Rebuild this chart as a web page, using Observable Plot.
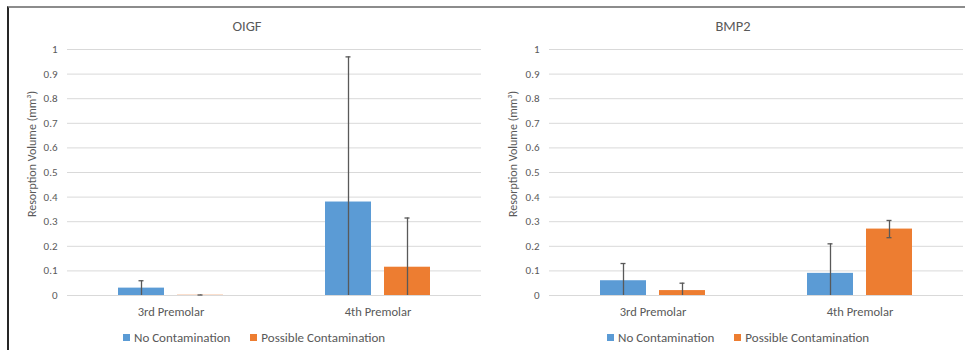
<!DOCTYPE html>
<html>
<head>
<meta charset="utf-8">
<script src="https://cdn.jsdelivr.net/npm/d3@7"></script>
<script src="https://cdn.jsdelivr.net/npm/@observablehq/plot@0.6"></script>
<style>
  html, body { margin: 0; padding: 0; background: #fff; }
  body { width: 965px; height: 350px; position: relative; overflow: hidden;
         font-family: Carlito, Calibri, Lato, sans-serif; color: #595959; }
  .frame { position: absolute; left: 7px; top: 6px; width: 958px; height: 344px;
           border-top: 2px solid #8c8c8c; border-left: 2px solid #262626; box-sizing: border-box; }
  .panel { position: absolute; top: 30px; }
  .title { position: absolute; top: 17px; font-size: 14.5px; transform: translateX(-50%); white-space: nowrap; }
  .ylabel { position: absolute; font-size: 12px; white-space: nowrap;
            transform: translate(-50%, -50%) rotate(-90deg); }
  .legend { position: absolute; top: 330px; display: flex; align-items: center; font-size: 13px; white-space: nowrap; }
  .legend .sw { width: 7px; height: 7px; margin-right: 4px; }
  .legend .item { display: flex; align-items: center; margin-right: 20px; }
  .panel svg g[aria-label^="y-axis"] text { font-size: 11px; }
  .panel svg g[aria-label^="fx-axis"] text { font-size: 12.5px; }
</style>
</head>
<body>
<div class="frame"></div>
<script>
// Resorption volume (mm³) by tooth and contamination status, mean ± error
const categories = ["3rd Premolar", "4th Premolar"];
const seriesNames = ["No Contamination", "Possible Contamination"];
const seriesColors = ["#5B9BD5", "#ED7D31"];
const yTicks = [0, 0.1, 0.2, 0.3, 0.4, 0.5, 0.6, 0.7, 0.8, 0.9, 1];

const oigfNone = [0.03, 0.38];
const oigfNoneErr = [0.03, 0.59];
const oigfPossible = [0.001, 0.115];
const oigfPossibleErr = [0.001, 0.2];

const bmp2None = [0.06, 0.09];
const bmp2NoneErr = [0.07, 0.12];
const bmp2Possible = [0.02, 0.27];
const bmp2PossibleErr = [0.03, 0.035];

function rows(none, noneErr, possible, possibleErr) {
  const out = [];
  categories.forEach((c, i) => {
    out.push({category: c, series: seriesNames[0], value: none[i], err: noneErr[i]});
    out.push({category: c, series: seriesNames[1], value: possible[i], err: possibleErr[i]});
  });
  return out;
}

function panel({title, data, left, width, marginLeft, marginRight, titleX, ylabelX, legendX}) {
  const chart = Plot.plot({
    width,
    height: 295,
    marginTop: 19,
    marginBottom: 30,
    marginLeft,
    marginRight,
    style: {fontFamily: "Carlito, Calibri, Lato, sans-serif", color: "#595959", background: "transparent"},
    fx: {domain: categories, paddingInner: 0, paddingOuter: 0, label: null, axis: "bottom", tickSize: 0, tickPadding: 12},
    x: {domain: seriesNames, paddingInner: 0.22, paddingOuter: 0.864, axis: null},
    y: {domain: [0, 1], ticks: yTicks, tickSize: 0, tickPadding: 10, label: null, tickFormat: d => d3.format("~g")(d)},
    color: {domain: seriesNames, range: seriesColors},
    marks: [
      Plot.ruleY(yTicks, {stroke: "#d9d9d9", strokeWidth: 1}),
      Plot.barY(data, {fx: "category", x: "series", y: "value", fill: "series"}),
      Plot.ruleX(data, {fx: "category", x: "series", y1: d => Math.max(0, d.value - d.err), y2: d => d.value + d.err, stroke: "#595959", strokeWidth: 1.3}),
      Plot.tickY(data, {fx: "category", x: "series", y: d => d.value + d.err, stroke: "#595959", strokeWidth: 1.3, insetLeft: 20.5, insetRight: 20.5}),
      Plot.tickY(data.filter(d => d.value - d.err > 0), {fx: "category", x: "series", y: d => d.value - d.err, stroke: "#595959", strokeWidth: 1.3, insetLeft: 20.5, insetRight: 20.5})
    ]
  });
  const wrap = document.createElement("div");
  wrap.className = "panel";
  wrap.style.left = left + "px";
  wrap.appendChild(chart);
  document.body.appendChild(wrap);

  const t = document.createElement("div");
  t.className = "title";
  t.style.left = titleX + "px";
  t.textContent = title;
  document.body.appendChild(t);

  const yl = document.createElement("div");
  yl.className = "ylabel";
  yl.style.left = ylabelX + "px";
  yl.style.top = "154px";
  yl.textContent = "Resorption Volume (mm³)";
  document.body.appendChild(yl);

  const lg = document.createElement("div");
  lg.className = "legend";
  lg.style.left = legendX + "px";
  seriesNames.forEach((s, i) => {
    const item = document.createElement("div");
    item.className = "item";
    const sw = document.createElement("div");
    sw.className = "sw";
    sw.style.background = seriesColors[i];
    item.appendChild(sw);
    item.appendChild(document.createTextNode(s));
    lg.appendChild(item);
  });
  document.body.appendChild(lg);
}

panel({title: "OIGF", data: rows(oigfNone, oigfNoneErr, oigfPossible, oigfPossibleErr),
       left: 8, width: 474, marginLeft: 59, marginRight: 1, titleX: 247, ylabelX: 32, legendX: 123});
panel({title: "BMP2", data: rows(bmp2None, bmp2NoneErr, bmp2Possible, bmp2PossibleErr),
       left: 482, width: 483, marginLeft: 66, marginRight: 2, titleX: 733, ylabelX: 513, legendX: 607});
</script>
</body>
</html>
